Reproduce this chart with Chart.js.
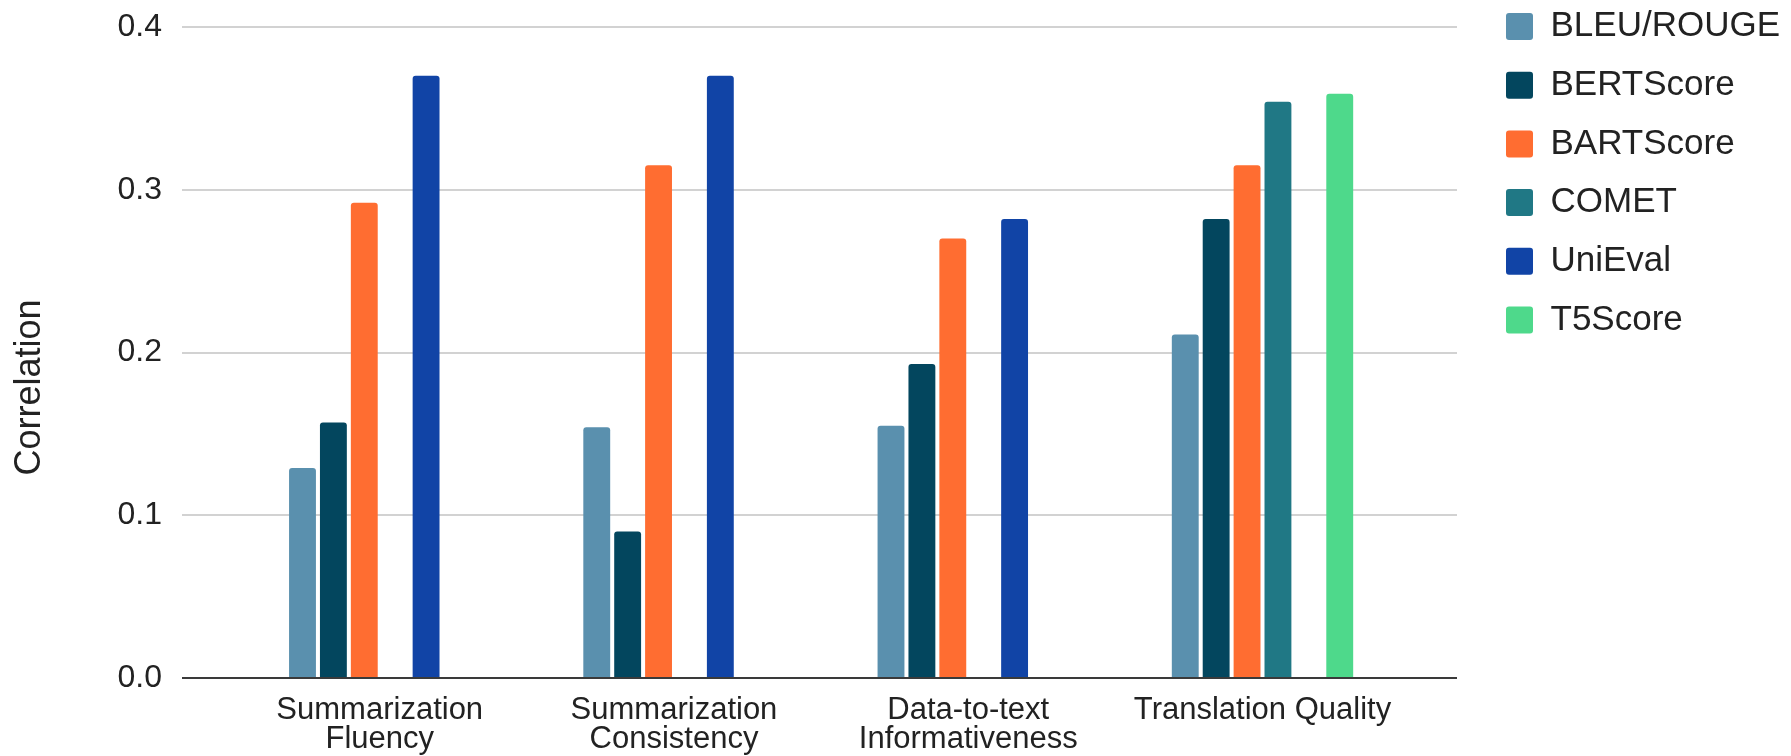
<!DOCTYPE html>
<html>
<head>
<meta charset="utf-8">
<script src="https://cdn.jsdelivr.net/npm/chart.js@4.4.1/dist/chart.umd.min.js"></script>
<style>
  html, body { margin: 0; padding: 0; background: #fff; }
  #wrap { width: 1791px; height: 756px; position: relative; }
</style>
</head>
<body>
<div id="wrap"><canvas id="chart"></canvas></div>
<script>
// 类别（x 轴标签，多行）
const categories = [
    ['Summarization', 'Fluency'],
    ['Summarization', 'Consistency'],
    ['Data-to-text', 'Informativeness'],
    ['Translation Quality']
];
const seriesNames = ['BLEU/ROUGE', 'BERTScore', 'BARTScore', 'COMET', 'UniEval', 'T5Score'];
const seriesColors = ['#5a90ae', '#03465e', '#ff6d31', '#207885', '#1144a6', '#4ed98b'];

// 各指标的相关系数
const bleuRouge = [0.129, 0.154, 0.155, 0.211];
const bertScore = [0.157, 0.090, 0.193, 0.282];
const bartScore = [0.292, 0.315, 0.270, 0.315];
const comet     = [null, null, null, 0.354];
const uniEval   = [0.370, 0.370, 0.282, null];
const t5Score   = [null, null, null, 0.359];

// y 轴刻度
const yTicks = [0, 0.1, 0.2, 0.3, 0.4];

// x 轴两端留白（类别索引单位）
const X_MIN = -0.672;
const X_MAX = 3.661;

const FONT = "'Liberation Sans', Arial, sans-serif";
Chart.defaults.font.family = FONT;
Chart.defaults.color = '#222';

const seriesValues = [bleuRouge, bertScore, bartScore, comet, uniEval, t5Score];
const datasets = seriesNames.map((name, k) => ({
    label: name,
    data: seriesValues[k].map((v, i) => ({ x: i, y: v })),
    backgroundColor: seriesColors[k],
    borderRadius: 3,
    borderSkipped: 'start',
    barPercentage: 0.87,
    categoryPercentage: 0.63
}));

new Chart(document.getElementById('chart'), {
    type: 'bar',
    data: { datasets: datasets },
    options: {
        responsive: true,
        maintainAspectRatio: false,
        animation: false,
        layout: { padding: { top: 0, right: 1, bottom: 0, left: 0 } },
        plugins: {
            tooltip: { enabled: false },
            legend: {
                position: 'right',
                align: 'start',
                labels: {
                    boxWidth: 27,
                    boxHeight: 27,
                    padding: 9,
                    useBorderRadius: true,
                    borderRadius: 3,
                    color: '#222',
                    font: { size: 35, lineHeight: 1.42 },
                    // 用数组文本控制行高
                    generateLabels: (chart) =>
                        Chart.defaults.plugins.legend.labels.generateLabels(chart)
                            .map(item => ({ ...item, text: [item.text], lineWidth: 0 }))
                }
            }
        },
        scales: {
            x: {
                type: 'linear',
                min: X_MIN,
                max: X_MAX,
                offset: false,
                afterBuildTicks: (scale) => {
                    scale.ticks = categories.map((c, i) => ({ value: i }));
                },
                afterFit: (scale) => { scale.height = 78; },
                grid: { display: false, drawTicks: false },
                border: { display: false },
                ticks: {
                    autoSkip: false,
                    maxRotation: 0,
                    minRotation: 0,
                    padding: 18,
                    color: '#222',
                    font: { size: 31, lineHeight: 0.93 },
                    callback: (v) => categories[v]
                }
            },
            y: {
                min: yTicks[0],
                max: yTicks[yTicks.length - 1],
                afterBuildTicks: (scale) => {
                    scale.ticks = yTicks.map(v => ({ value: v }));
                },
                afterFit: (scale) => {
                    scale.width = 182;
                    scale.paddingTop = 27;
                },
                border: { display: false },
                grid: {
                    drawTicks: false,
                    lineWidth: 2,
                    color: (ctx) => ctx.tick && ctx.tick.value === 0 ? '#3a3a3a' : '#d2d2d2'
                },
                ticks: {
                    padding: 20,
                    color: '#222',
                    font: { size: 32 },
                    callback: (v) => v.toFixed(1)
                },
                title: {
                    display: true,
                    // 末尾空格让标题略向下偏移
                    text: 'Correlation       ',
                    color: '#222',
                    font: { size: 36 },
                    padding: { top: 8, bottom: 0 }
                }
            },
            // 图例与绘图区之间的空隙
            gap: {
                position: 'right',
                display: true,
                afterFit: (scale) => { scale.width = 40; },
                grid: { display: false, drawTicks: false },
                border: { display: false },
                ticks: { display: false }
            }
        }
    }
});
</script>
</body>
</html>
